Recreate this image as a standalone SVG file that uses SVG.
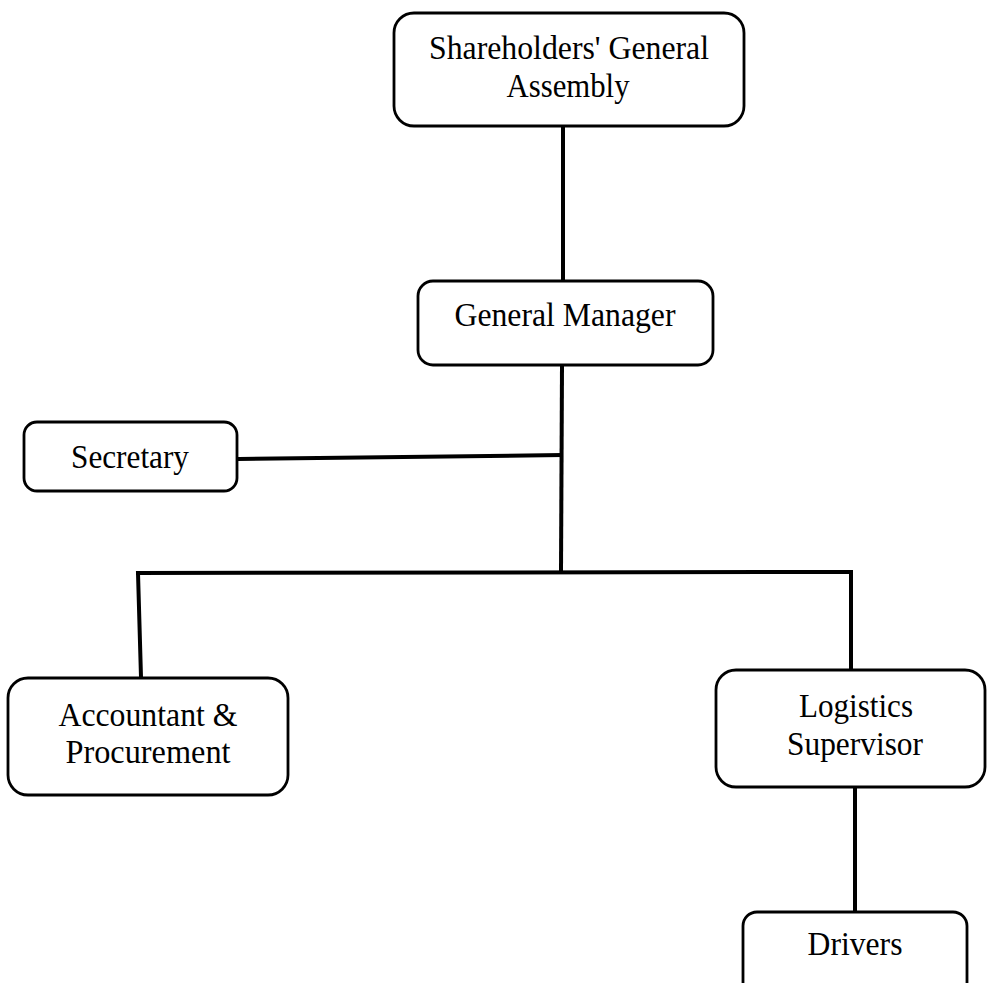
<svg xmlns="http://www.w3.org/2000/svg" width="987" height="983" viewBox="0 0 987 983">
<style>
.box{fill:#fff;stroke:#000;stroke-width:2.8}
.lbl{font-family:"Liberation Serif","Times New Roman",serif;font-size:34px;fill:#000;text-anchor:middle}
.conn{stroke:#000;stroke-width:4;fill:none;stroke-linecap:square}
</style>
<rect width="987" height="983" fill="#fff"/>
<g id="connectors">
<line class="conn" x1="563" y1="127" x2="563" y2="280"/>
<line class="conn" x1="562" y1="366" x2="561" y2="572"/>
<line class="conn" x1="239" y1="459" x2="561" y2="455"/>
<line class="conn" x1="138" y1="573" x2="851" y2="572"/>
<line class="conn" x1="138" y1="573" x2="141" y2="677"/>
<line class="conn" x1="851" y1="572" x2="851" y2="669"/>
<line class="conn" x1="855" y1="788" x2="855" y2="911"/>
</g>
<g id="shareholders">
<rect class="box" x="394" y="13" width="350" height="113" rx="20"/>
<text class="lbl" x="569" y="59" textLength="280" lengthAdjust="spacingAndGlyphs">Shareholders' General</text>
<text class="lbl" x="568" y="97" textLength="123" lengthAdjust="spacingAndGlyphs">Assembly</text>
</g>
<g id="general-manager">
<rect class="box" x="418" y="281" width="295" height="84" rx="15"/>
<text class="lbl" x="565" y="326" textLength="221" lengthAdjust="spacingAndGlyphs">General Manager</text>
</g>
<g id="secretary">
<rect class="box" x="24" y="422" width="213" height="69" rx="13"/>
<text class="lbl" x="130" y="468" textLength="118" lengthAdjust="spacingAndGlyphs">Secretary</text>
</g>
<g id="accountant">
<rect class="box" x="8" y="678" width="280" height="117" rx="20"/>
<text class="lbl" x="148" y="726" textLength="179" lengthAdjust="spacingAndGlyphs">Accountant &amp;</text>
<text class="lbl" x="148" y="763" textLength="165" lengthAdjust="spacingAndGlyphs">Procurement</text>
</g>
<g id="logistics">
<rect class="box" x="716" y="670" width="269" height="117" rx="20"/>
<text class="lbl" x="856" y="717" textLength="114" lengthAdjust="spacingAndGlyphs">Logistics</text>
<text class="lbl" x="855" y="755" textLength="136" lengthAdjust="spacingAndGlyphs">Supervisor</text>
</g>
<g id="drivers">
<rect class="box" x="743" y="912" width="224" height="90" rx="14"/>
<text class="lbl" x="855" y="955" textLength="95" lengthAdjust="spacingAndGlyphs">Drivers</text>
</g>
</svg>
